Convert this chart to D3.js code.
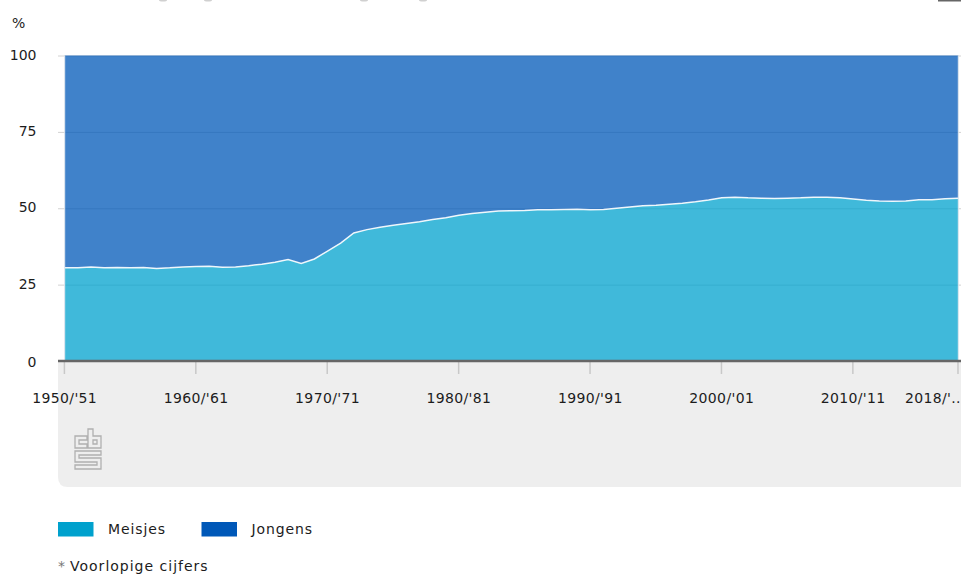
<!DOCTYPE html>
<html>
<head>
<meta charset="utf-8">
<script src="https://cdn.jsdelivr.net/npm/d3@7"></script>
<style>
html,body{margin:0;padding:0;background:#fff;overflow:hidden}
svg{display:block}
text{font-family:"DejaVu Sans",sans-serif;font-size:14px;fill:#1c1c1c}
</style>
</head>
<body>
<div id="root"></div>
<script>
const years = [1950,1951,1952,1953,1954,1955,1956,1957,1958,1959,
  1960,1961,1962,1963,1964,1965,1966,1967,1968,1969,
  1970,1971,1972,1973,1974,1975,1976,1977,1978,1979,
  1980,1981,1982,1983,1984,1985,1986,1987,1988,1989,
  1990,1991,1992,1993,1994,1995,1996,1997,1998,1999,
  2000,2001,2002,2003,2004,2005,2006,2007,2008,2009,
  2010,2011,2012,2013,2014,2015,2016,2017,2018];
const meisjes = [30.5,30.5,30.8,30.5,30.6,30.5,30.6,30.3,30.5,30.8,
  30.9,31.0,30.7,30.8,31.2,31.7,32.3,33.2,31.9,33.4,
  36.0,38.6,41.9,43.0,43.8,44.4,45.0,45.6,46.3,46.9,
  47.7,48.3,48.7,49.1,49.2,49.3,49.5,49.5,49.6,49.7,
  49.5,49.6,50.0,50.4,50.8,51.0,51.3,51.6,52.1,52.7,
  53.4,53.6,53.4,53.3,53.2,53.3,53.4,53.6,53.6,53.4,
  53.0,52.6,52.4,52.3,52.4,52.8,52.8,53.1,53.3];
const jongens = [69.5,69.5,69.2,69.5,69.4,69.5,69.4,69.7,69.5,69.2,
  69.1,69.0,69.3,69.2,68.8,68.3,67.7,66.8,68.1,66.6,
  64.0,61.4,58.1,57.0,56.2,55.6,55.0,54.4,53.7,53.1,
  52.3,51.7,51.3,50.9,50.8,50.7,50.5,50.5,50.4,50.3,
  50.5,50.4,50.0,49.6,49.2,49.0,48.7,48.4,47.9,47.3,
  46.6,46.4,46.6,46.7,46.8,46.7,46.6,46.4,46.4,46.6,
  47.0,47.4,47.6,47.7,47.6,47.2,47.2,46.9,46.7];
const xTicks = [1950,1960,1970,1980,1990,2000,2010,2018];
const xLabels = ["1950/'51","1960/'61","1970/'71","1980/'81","1990/'91","2000/'01","2010/'11","2018/'.."];
const yTicks = [0,25,50,75,100];
const seriesNames = ['Meisjes','Jongens'];
const colors = ['#00a1cd','#0058b8'];

const width = 961, height = 576;
const panelLeft = 58, plotLeft = 64.7, plotRight = 958.3, plotTop = 55.5, plotBottom = 361;

const svg = d3.select('#root').append('svg')
              .attr('width',width)
              .attr('height',height);

const x = d3.scaleLinear().domain([years[0],years[years.length-1]]).range([plotLeft,plotRight]);
const y = d3.scaleLinear().domain([0,100]).range([plotBottom,plotTop]);

// clipped title and button at the top edge of the screenshot
svg.append('rect').attr('x',938).attr('y',0).attr('width',23).attr('height',1.5).attr('fill','#666');
svg.selectAll('.clip').data([163,208,364,423]).enter()
   .append('ellipse').attr('cx',d=>d).attr('cy',0).attr('rx',4).attr('ry',1.5).attr('fill','#d0d0d0');

// grey panel under the axis, rounded bottom left corner
svg.append('path')
   .attr('d',`M${panelLeft},${plotBottom} H${width} V487 H${panelLeft+10} Q${panelLeft},487 ${panelLeft},477 Z`)
   .attr('fill','#eeeeee');

const yAxis = svg.append('g')
   .attr('transform',`translate(${panelLeft},0)`)
   .call(d3.axisLeft(y).tickValues(yTicks).tickSize(-(width-panelLeft)));
yAxis.select('.domain').remove();
yAxis.selectAll('.tick line').attr('stroke','#d2d2d2').attr('stroke-width',1);
yAxis.selectAll('.tick text').attr('x',-21.5).attr('dy','0.25em')
     .style('font-family','"DejaVu Sans",sans-serif').style('font-size','14px');
yAxis.selectAll('.tick').filter(d=>d===0).select('text').attr('dy','0.37em');
yAxis.selectAll('.tick').filter(d=>d===0).select('line').remove();

const rows = years.map((yr,i)=>({year:yr,Meisjes:meisjes[i],Jongens:jongens[i]}));
const stacked = d3.stack().keys(seriesNames)(rows);
const area = d3.area().x(d=>x(d.data.year)).y0(d=>y(d[0])).y1(d=>y(d[1]));
const topLine = d3.line().x(d=>x(d.data.year)).y(d=>y(d[1]));

svg.selectAll('.layer').data(stacked).enter()
   .append('path')
   .attr('class','layer')
   .attr('d',area)
   .attr('fill',(d,i)=>colors[i])
   .attr('fill-opacity',0.75);

svg.append('path')
   .datum(stacked[0])
   .attr('d',topLine)
   .attr('fill','none')
   .attr('stroke','#fff')
   .attr('stroke-opacity',0.9)
   .attr('stroke-width',1.5);

// pale edges on both sides of the area
[plotLeft,plotRight].forEach(v=>{
  svg.append('line').attr('x1',v).attr('x2',v).attr('y1',plotTop).attr('y2',plotBottom)
     .attr('stroke','#dfe6ee').attr('stroke-width',1);
});

const xAxis = svg.append('g')
   .attr('transform',`translate(0,${plotBottom})`)
   .call(d3.axisBottom(x).tickValues(xTicks).tickSize(13).tickPadding(19)
           .tickFormat((d,i)=>xLabels[i]));
xAxis.select('.domain').remove();
xAxis.selectAll('.tick line').attr('stroke','#c8c8c8').attr('stroke-width',1.5).attr('x1',-0.8).attr('x2',-0.8);
xAxis.selectAll('.tick text').attr('x',-0.5)
     .style('font-family','"DejaVu Sans",sans-serif').style('font-size','14px').style('letter-spacing','0.35px');
xAxis.selectAll('.tick').filter(d=>d===2018).select('text').attr('text-anchor','end').attr('x',2);

svg.append('line').attr('x1',panelLeft).attr('x2',width).attr('y1',plotBottom).attr('y2',plotBottom)
   .attr('stroke','#666').attr('stroke-width',2.5);

svg.append('text').attr('x',12).attr('y',28).text('%');

// cbs logo
svg.append('path')
   .attr('d','M87 436H75V448H87V444H79V440H87ZM88 429H93V436H101V448H88ZM93 440H97V444H93ZM75 451H101V455H79V458H101V469H75V465H97V462H75Z')
   .attr('fill','none')
   .attr('stroke','#b0b0b0')
   .attr('stroke-width',1.3);

// legend
const legend = svg.append('g').attr('transform','translate(0,522)');
const legendX = [58,201.5];
legend.selectAll('rect').data(seriesNames).enter()
   .append('rect')
   .attr('x',(d,i)=>legendX[i])
   .attr('width',35.5)
   .attr('height',14.5)
   .attr('fill',(d,i)=>colors[i]);
legend.selectAll('text').data(seriesNames).enter()
   .append('text')
   .attr('x',(d,i)=>legendX[i]+50)
   .attr('y',12)
   .style('letter-spacing','0.9px')
   .text(d=>d);

const note = svg.append('text').attr('x',58).attr('y',571);
note.append('tspan').attr('fill','#777').style('fill','#777').text('*');
note.append('tspan').attr('x',70).style('letter-spacing','1px').text('Voorlopige cijfers');
</script>
</body>
</html>
